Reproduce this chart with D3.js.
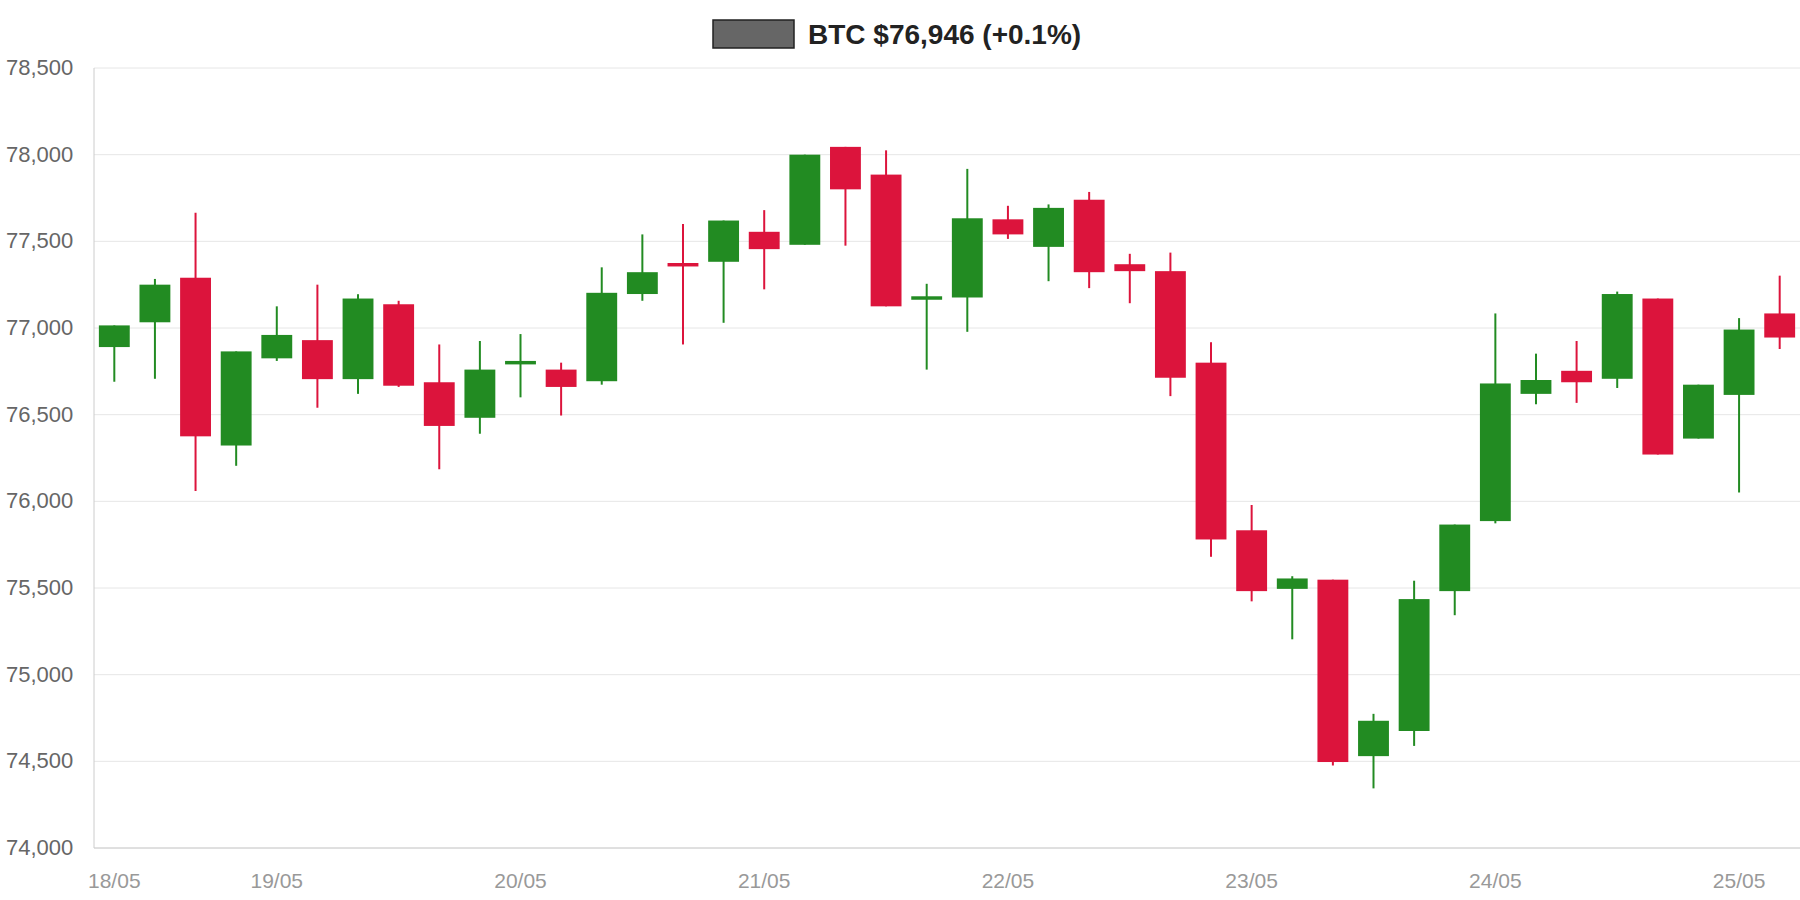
<!DOCTYPE html>
<html><head><meta charset="utf-8">
<script src="https://cdn.jsdelivr.net/npm/d3@7"></script>
<style>body{margin:0;background:#fff}svg{display:block;font-family:"Liberation Sans",Arial,sans-serif}</style>
</head><body><svg id="c" width="1800" height="900"></svg>
<script>
const opens  = [76890,77033,77290,76322,76825,76930,76705,77137,76687,76482,76790,76760,76693,77196,77375,77382,77555,77480,78045,77885,77163,77176,77627,77468,77740,77368,77328,76800,75833,75495,75548,74530,74675,75482,75886,76620,76753,76707,77170,76362,76614,77084];
const closes = [77015,77250,76375,76865,76960,76705,77170,76667,76435,76760,76810,76660,77203,77322,77355,77620,77455,78000,77800,77125,77183,77633,77540,77693,77322,77328,76713,75780,75482,75555,74496,74734,75436,75866,76680,76700,76687,77196,76270,76673,76991,76945];
const highs  = [77015,77283,77665,76865,77125,77250,77195,77157,76905,76925,76965,76800,77350,77540,77600,77620,77680,78000,78045,78025,77255,77918,77705,77713,77785,77428,77435,76918,75979,75568,75548,74774,75542,75866,77084,76852,76925,77210,77170,76673,77057,77302];
const lows   = [76690,76707,76060,76205,76810,76540,76620,76660,76185,76390,76600,76495,76673,77157,76905,77030,77223,77480,77475,77125,76760,76978,77514,77270,77230,77143,76607,75680,75423,75204,74476,74344,74589,75343,75873,76560,76568,76654,76270,76362,76051,76879];
const yTicks = [74000,74500,75000,75500,76000,76500,77000,77500,78000,78500];
const xTickIdx = [0,4,10,16,22,28,34,40];
const xTickLabels = ["18/05","19/05","20/05","21/05","22/05","23/05","24/05","25/05"];
const title = "BTC $76,946 (+0.1%)";

const svg = d3.select("#c");
const L=94,R=1800,T=68,B=848;
const x = d3.scaleBand().domain(d3.range(opens.length)).range([L,R]).paddingInner(0.24).paddingOuter(0.12);
const y = d3.scaleLinear().domain([74000,78500]).range([B,T]);
const fmt = d3.format(",");

svg.append("g").selectAll("line").data(yTicks).join("line")
 .attr("x1",L).attr("x2",R).attr("y1",d=>y(d)).attr("y2",d=>y(d)).attr("stroke","#e6e6e6");
svg.append("g").selectAll("text").data(yTicks).join("text")
 .attr("x",6).attr("y",d=>y(d)+7).attr("font-size",22).attr("fill","#666").text(d=>fmt(d));
svg.append("line").attr("x1",L).attr("x2",L).attr("y1",T).attr("y2",B).attr("stroke","#ccc");
svg.append("line").attr("x1",L).attr("x2",R).attr("y1",B).attr("y2",B).attr("stroke","#ccc");
svg.append("g").selectAll("text").data(xTickIdx).join("text")
 .attr("x",d=>x(d)+x.bandwidth()/2).attr("y",888).attr("text-anchor","middle")
 .attr("font-size",21).attr("fill","#999").text((d,i)=>xTickLabels[i]);

const col = i => closes[i]>=opens[i] ? "#228b22" : "#dc143c";
const g = svg.append("g");
d3.range(opens.length).forEach(i=>{
  const cx = x(i)+x.bandwidth()/2;
  g.append("line").attr("x1",cx).attr("x2",cx).attr("y1",y(highs[i])).attr("y2",y(lows[i])).attr("stroke",col(i)).attr("stroke-width",2);
  const top=y(Math.max(opens[i],closes[i])), bot=y(Math.min(opens[i],closes[i]));
  g.append("rect").attr("x",x(i)).attr("width",x.bandwidth()).attr("y",top).attr("height",Math.max(3,bot-top)).attr("fill",col(i));
});

svg.append("rect").attr("x",713).attr("y",20).attr("width",81).attr("height",28).attr("fill","#666").attr("stroke","#222").attr("stroke-width",1.5);
svg.append("text").attr("x",808).attr("y",44).attr("font-size",28).attr("font-weight","bold").attr("fill","#222").text(title);
</script></body></html>
